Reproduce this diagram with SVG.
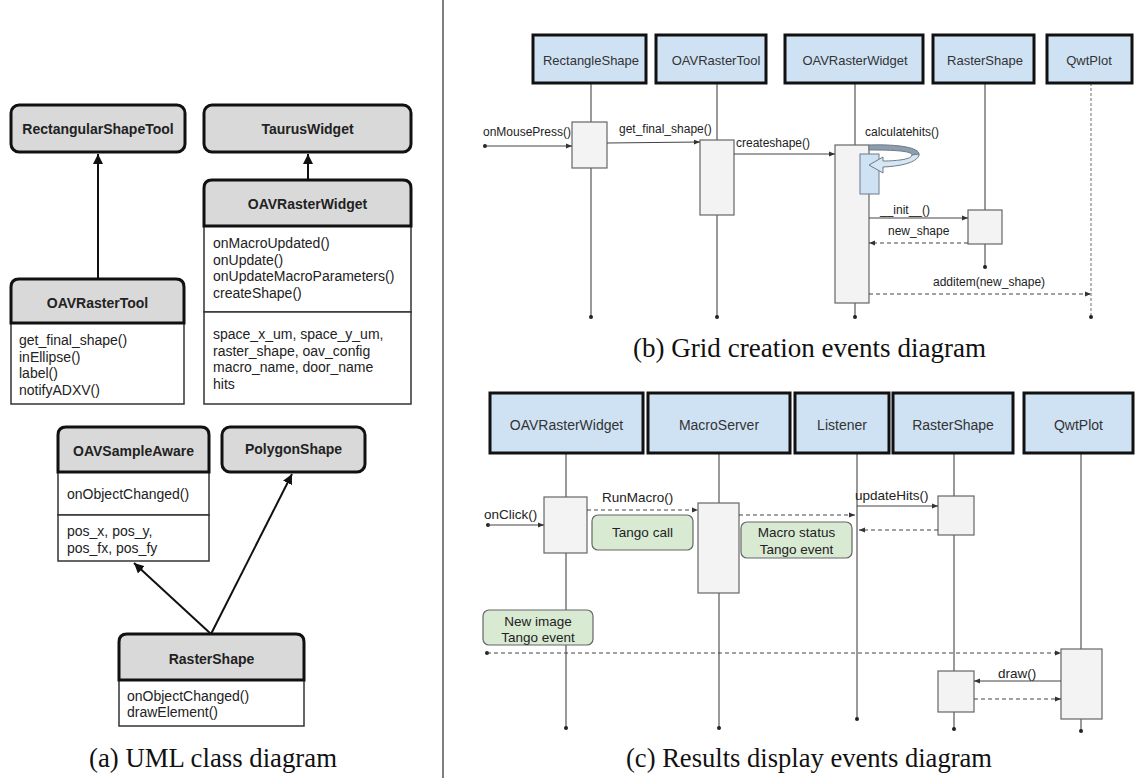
<svg xmlns="http://www.w3.org/2000/svg" width="1135" height="778" viewBox="0 0 1135 778">
<defs>
<style>
.uh{fill:#d9d9d9;stroke:#111;stroke-width:3}
.ub{fill:#fff;stroke:#333;stroke-width:1.5}
.ut{font-family:"Liberation Sans",Arial,sans-serif;font-size:14px;fill:#222}
.utb{font-family:"Liberation Sans",Arial,sans-serif;font-size:14px;font-weight:bold;fill:#222;text-anchor:middle}
.inh{stroke:#111;stroke-width:2;fill:none;marker-end:url(#tri)}
.sh{fill:#cfe2f3;stroke:#111;stroke-width:3}
.ht{font-family:"Liberation Sans",Arial,sans-serif;font-size:13px;fill:#333;text-anchor:middle}
.ht2{font-family:"Liberation Sans",Arial,sans-serif;font-size:14px;fill:#333;text-anchor:middle}
.ll{stroke:#555;stroke-width:1.2;fill:none}
.lld{stroke:#888;stroke-width:1.2;fill:none;stroke-dasharray:3 2}
.act{fill:#f3f3f3;stroke:#666;stroke-width:1.2}
.msg{stroke:#444;stroke-width:1.2;fill:none;marker-end:url(#ah)}
.dmsg{stroke:#444;stroke-width:1.2;fill:none;stroke-dasharray:4 3;marker-end:url(#ah)}
.lb{font-family:"Liberation Sans",Arial,sans-serif;font-size:12px;fill:#222}
.lb2{font-family:"Liberation Sans",Arial,sans-serif;font-size:13.5px;fill:#222}
.note{fill:#d9ead3;stroke:#666;stroke-width:1.2}
.nt{font-family:"Liberation Sans",Arial,sans-serif;font-size:13.5px;fill:#222;text-anchor:middle}
.cap{font-family:"Liberation Serif","Times New Roman",serif;font-size:27px;fill:#111}
.dot{fill:#222}
</style>
<marker id="tri" viewBox="0 0 10 10" refX="10" refY="5" markerWidth="5" markerHeight="5" orient="auto" markerUnits="strokeWidth">
<path d="M0,0 L10,5 L0,10 Z" fill="#111"/>
</marker>
<marker id="ah" viewBox="0 0 10 10" refX="10" refY="5" markerWidth="5" markerHeight="5" orient="auto" markerUnits="strokeWidth">
<path d="M0,1 L10,5 L0,9 Z" fill="#333"/>
</marker>
</defs>
<rect width="1135" height="778" fill="#fff"/>
<line x1="443" y1="0" x2="443" y2="778" stroke="#555" stroke-width="1.5"/>

<!-- (a) UML class diagram -->
<g id="connectors-uml">
<line class="inh" x1="98" y1="279" x2="98" y2="154"/>
<line class="inh" x1="308" y1="180" x2="308" y2="154"/>
<line class="inh" x1="211" y1="634" x2="134" y2="563"/>
<line class="inh" x1="211" y1="634" x2="292" y2="474"/>
</g>
<g id="RectangularShapeTool">
<rect class="uh" x="11" y="105" width="174" height="47" rx="8"/>
<text class="utb" x="98" y="133.5">RectangularShapeTool</text>
</g>
<g id="TaurusWidget">
<rect class="uh" x="204" y="105" width="207" height="47" rx="8"/>
<text class="utb" x="307.5" y="133.5">TaurusWidget</text>
</g>
<g id="OAVRasterWidget-class">
<rect class="ub" x="204" y="226" width="207" height="86"/>
<rect class="ub" x="204" y="312" width="207" height="92"/>
<path class="uh" d="M204,226 V188 Q204,180 212,180 H403 Q411,180 411,188 V226 Z"/>
<text class="utb" x="307.5" y="209">OAVRasterWidget</text>
<text class="ut" x="213" y="248">onMacroUpdated()</text>
<text class="ut" x="213" y="264.5">onUpdate()</text>
<text class="ut" x="213" y="281">onUpdateMacroParameters()</text>
<text class="ut" x="213" y="297.5">createShape()</text>
<text class="ut" x="213" y="339">space_x_um, space_y_um,</text>
<text class="ut" x="213" y="355.5">raster_shape, oav_config</text>
<text class="ut" x="213" y="372">macro_name, door_name</text>
<text class="ut" x="213" y="388.5">hits</text>
</g>
<g id="OAVRasterTool-class">
<rect class="ub" x="11" y="323" width="173" height="81"/>
<path class="uh" d="M11,323 V287 Q11,279 19,279 H176 Q184,279 184,287 V323 Z"/>
<text class="utb" x="97.5" y="308">OAVRasterTool</text>
<text class="ut" x="19" y="345">get_final_shape()</text>
<text class="ut" x="19" y="361.5">inEllipse()</text>
<text class="ut" x="19" y="378">label()</text>
<text class="ut" x="19" y="394.5">notifyADXV()</text>
</g>
<g id="OAVSampleAware">
<rect class="ub" x="58" y="472" width="151" height="43"/>
<rect class="ub" x="58" y="515" width="151" height="46"/>
<path class="uh" d="M58,472 V435 Q58,427 66,427 H201 Q209,427 209,435 V472 Z"/>
<text class="utb" x="133.5" y="456">OAVSampleAware</text>
<text class="ut" x="67" y="499">onObjectChanged()</text>
<text class="ut" x="67" y="536">pos_x, pos_y,</text>
<text class="ut" x="67" y="552.5">pos_fx, pos_fy</text>
</g>
<g id="PolygonShape">
<rect class="uh" x="222" y="427" width="143" height="45" rx="8"/>
<text class="utb" x="293.5" y="454">PolygonShape</text>
</g>
<g id="RasterShape-class">
<rect class="ub" x="119" y="680" width="185" height="46"/>
<path class="uh" d="M119,680 V642 Q119,634 127,634 H296 Q304,634 304,642 V680 Z"/>
<text class="utb" x="211.5" y="664">RasterShape</text>
<text class="ut" x="127" y="701">onObjectChanged()</text>
<text class="ut" x="127" y="717">drawElement()</text>
</g>
<text class="cap" x="89" y="767" textLength="248" lengthAdjust="spacingAndGlyphs">(a) UML class diagram</text>

<!-- (b) Grid creation events diagram -->
<g id="lifelines-b">
<line class="ll" x1="591" y1="83" x2="591" y2="317"/>
<line class="ll" x1="717" y1="83" x2="717" y2="317"/>
<line class="ll" x1="855" y1="83" x2="855" y2="317"/>
<line class="ll" x1="985" y1="83" x2="985" y2="267"/>
<line class="lld" x1="1091" y1="83" x2="1091" y2="317"/>
<circle class="dot" cx="591" cy="317" r="2"/>
<circle class="dot" cx="717" cy="317" r="2"/>
<circle class="dot" cx="855" cy="317" r="2"/>
<circle class="dot" cx="985" cy="267" r="2"/>
<circle class="dot" cx="1091" cy="317" r="2"/>
</g>
<g id="b-RectangleShape">
<rect class="sh" x="533" y="35" width="113" height="48"/>
<text class="ht" x="591" y="64.5">RectangleShape</text>
<rect class="act" x="572" y="122" width="35" height="46"/>
</g>
<g id="b-OAVRasterTool">
<rect class="sh" x="656" y="35" width="110" height="48"/>
<text class="ht" x="716" y="64.5">OAVRasterTool</text>
<rect class="act" x="700" y="140" width="34" height="75"/>
</g>
<g id="b-OAVRasterWidget">
<rect class="sh" x="785" y="35" width="138" height="48"/>
<text class="ht" x="855" y="64.5">OAVRasterWidget</text>
<rect class="act" x="835" y="145" width="34" height="158"/>
<rect x="860" y="154" width="19" height="40" fill="#cfe2f3" stroke="#6b7b8a" stroke-width="1"/>
<path d="M869,145 C900,144 919,148 919,154 C919,157 915,160 908,162 C911,159 912,157 912,155 C912,151 895,150 869,150 Z" fill="#8d9dac" stroke="#6b7b8a" stroke-width="1"/>
<path d="M919,154 C919,161 905,166 883,167 L883,173 L869,165 L883,157 L883,161 C898,161 912,159 912,155 Z" fill="#d6e6f3" stroke="#6b7b8a" stroke-width="1"/>
</g>
<g id="b-RasterShape">
<rect class="sh" x="933" y="35" width="101" height="48"/>
<text class="ht" x="985" y="64.5">RasterShape</text>
<rect class="act" x="968" y="210" width="34" height="34"/>
</g>
<g id="b-QwtPlot">
<rect class="sh" x="1047" y="35" width="85" height="48"/>
<text class="ht" x="1089" y="64.5">QwtPlot</text>
</g>
<g id="connectors-b">
<circle class="dot" cx="485" cy="146" r="2"/>
<line class="msg" x1="485" y1="146" x2="572" y2="146"/>
<line class="msg" x1="607" y1="143" x2="700" y2="142"/>
<line class="msg" x1="734" y1="154" x2="835" y2="154"/>
<line class="msg" x1="869" y1="218" x2="968" y2="218"/>
<line class="dmsg" x1="968" y1="243" x2="869" y2="243"/>
<line class="dmsg" x1="869" y1="294" x2="1091" y2="294"/>
</g>
<g id="labels-b">
<text class="lb" x="483" y="136">onMousePress()</text>
<text class="lb" x="619" y="133">get_final_shape()</text>
<text class="lb" x="736" y="147">createshape()</text>
<text class="lb" x="865" y="136">calculatehits()</text>
<text class="lb" x="880" y="214">__init__()</text>
<text class="lb" x="888" y="235">new_shape</text>
<text class="lb" x="933" y="286">additem(new_shape)</text>
</g>
<text class="cap" x="633" y="357" textLength="353" lengthAdjust="spacingAndGlyphs">(b) Grid creation events diagram</text>

<!-- (c) Results display events diagram -->
<g id="lifelines-c">
<line class="ll" x1="566" y1="453" x2="566" y2="728"/>
<line class="ll" x1="719" y1="453" x2="719" y2="728"/>
<line class="ll" x1="857" y1="453" x2="857" y2="719"/>
<line class="ll" x1="954" y1="453" x2="954" y2="729"/>
<line class="ll" x1="1081" y1="453" x2="1081" y2="731"/>
<circle class="dot" cx="566" cy="728" r="2"/>
<circle class="dot" cx="719" cy="728" r="2"/>
<circle class="dot" cx="857" cy="719" r="2"/>
<circle class="dot" cx="954" cy="729" r="2"/>
<circle class="dot" cx="1081" cy="731" r="2"/>
</g>
<g id="c-OAVRasterWidget">
<rect class="sh" x="490" y="393" width="153" height="60"/>
<text class="ht2" x="566.5" y="430">OAVRasterWidget</text>
<rect class="act" x="544" y="497" width="43" height="56"/>
</g>
<g id="c-MacroServer">
<rect class="sh" x="648" y="393" width="142" height="60"/>
<text class="ht2" x="719" y="430">MacroServer</text>
<rect class="act" x="698" y="503" width="41" height="90"/>
</g>
<g id="c-Listener">
<rect class="sh" x="795" y="393" width="94" height="60"/>
<text class="ht2" x="842" y="430">Listener</text>
</g>
<g id="c-RasterShape">
<rect class="sh" x="893" y="393" width="120" height="60"/>
<text class="ht2" x="953" y="430">RasterShape</text>
<rect class="act" x="938" y="496" width="36" height="39"/>
<rect class="act" x="938" y="671" width="36" height="41"/>
</g>
<g id="c-QwtPlot">
<rect class="sh" x="1024" y="393" width="109" height="60"/>
<text class="ht2" x="1078.5" y="430">QwtPlot</text>
<rect class="act" x="1061" y="649" width="41" height="70"/>
</g>
<g id="note-tango-call">
<rect class="note" x="592" y="515" width="101" height="35" rx="6"/>
<text class="nt" x="642.5" y="537">Tango call</text>
</g>
<g id="note-macro-status">
<rect class="note" x="741" y="522" width="111" height="36" rx="6"/>
<text class="nt" x="796.5" y="537">Macro status</text>
<text class="nt" x="796.5" y="553.5">Tango event</text>
</g>
<g id="note-new-image">
<rect class="note" x="483" y="610" width="110" height="35" rx="6"/>
<text class="nt" x="538" y="626">New image</text>
<text class="nt" x="538" y="642">Tango event</text>
</g>
<g id="connectors-c">
<circle class="dot" cx="488" cy="525" r="2"/>
<line class="msg" x1="488" y1="525" x2="544" y2="525"/>
<line class="dmsg" x1="587" y1="510" x2="698" y2="510"/>
<line class="dmsg" x1="739" y1="515" x2="855" y2="515"/>
<line class="msg" x1="857" y1="506" x2="938" y2="506"/>
<line class="dmsg" x1="938" y1="530" x2="859" y2="530"/>
<circle class="dot" cx="487" cy="653" r="2"/>
<line class="dmsg" x1="487" y1="653" x2="1061" y2="653"/>
<line class="msg" x1="1061" y1="681" x2="974" y2="681"/>
<line class="dmsg" x1="974" y1="699" x2="1061" y2="699"/>
</g>
<g id="labels-c">
<text class="lb2" x="484" y="519">onClick()</text>
<text class="lb2" x="602" y="502">RunMacro()</text>
<text class="lb2" x="855" y="500">updateHits()</text>
<text class="lb2" x="998" y="678">draw()</text>
</g>
<text class="cap" x="626" y="767" textLength="366" lengthAdjust="spacingAndGlyphs">(c) Results display events diagram</text>
</svg>
